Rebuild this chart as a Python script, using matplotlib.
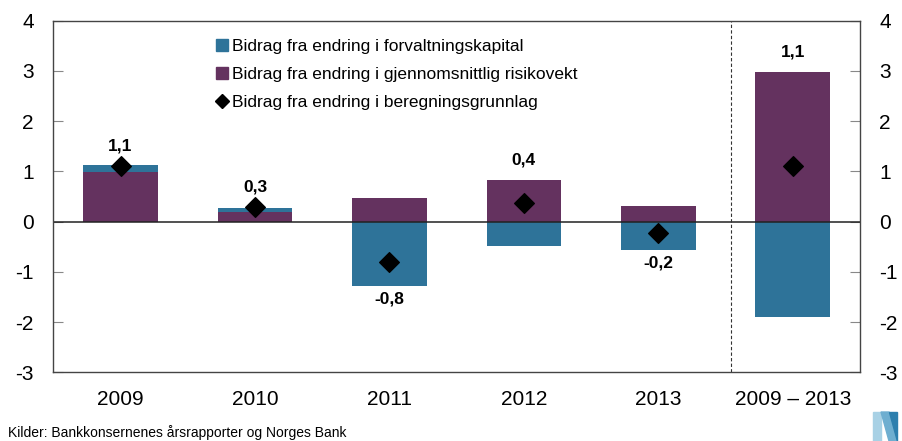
# Bidrag til endring i risikovektet eiendeler - stablet søylediagram

import matplotlib.pyplot as plt
from matplotlib.patches import Polygon
from matplotlib.lines import Line2D

plt.rcParams['font.family'] = ['Liberation Sans', 'DejaVu Sans']

# data lest av figuren
kategorier = ['2009', '2010', '2011', '2012', '2013', '2009 – 2013']
forvaltningskapital = [0.13, 0.07, -1.28, -0.48, -0.56, -1.89]
risikovekt = [0.99, 0.20, 0.47, 0.83, 0.31, 2.98]
beregningsgrunnlag = [1.1, 0.29, -0.8, 0.37, -0.23, 1.1]
etiketter = ['1,1', '0,3', '-0,8', '0,4', '-0,2', '1,1']

blaa = '#2e7399'
lilla = '#64325f'

W, H = 903, 441
fig = plt.figure(figsize=(W / 100, H / 100), dpi=100)
ax = fig.add_axes([53.3 / W, 1 - 372.3 / H, 806.7 / W, 351.6 / H])

x = range(len(kategorier))
bredde = 0.555

# positive deler stables oppover fra 0, negative nedover
for i in x:
    f = forvaltningskapital[i]
    r = risikovekt[i]
    ax.bar(i, r, bredde, color=lilla, linewidth=0)
    if f >= 0 and r >= 0:
        ax.bar(i, f, bredde, bottom=r, color=blaa, linewidth=0)
    else:
        ax.bar(i, f, bredde, color=blaa, linewidth=0)

ax.scatter(list(x), beregningsgrunnlag, marker='D', s=100, color='black', zorder=5)

# verdietiketter
for i in x:
    topp = max(risikovekt[i] + max(forvaltningskapital[i], 0), 0)
    bunn = min(forvaltningskapital[i], 0)
    if beregningsgrunnlag[i] >= 0:
        ax.text(i, max(topp, beregningsgrunnlag[i]) + 0.24, etiketter[i],
                ha='center', va='bottom', fontsize=12.5, fontweight='bold')
    else:
        ax.text(i, bunn - 0.12, etiketter[i], ha='center', va='top',
                fontsize=12.5, fontweight='bold')

ax.axhline(0, color='#222222', linewidth=1.1)
ax.axvline(4.54, color='#333333', linewidth=0.8, linestyle=(0, (3, 2)))

ax.set_xlim(-0.5, 5.5)
ax.set_ylim(-3, 4)
ax.set_xticks(list(x))
ax.set_xticklabels(kategorier, fontsize=15)
ax.tick_params(axis='x', length=0, pad=13)
ax.set_yticks(range(-3, 5))
ax.set_yticklabels([str(v) for v in range(-3, 5)], fontsize=15)
ax.tick_params(axis='y', direction='in', length=7, color='#888888',
               left=True, right=True, labelleft=True, labelright=True, pad=14)
for s in ax.spines.values():
    s.set_color('#444444')
    s.set_linewidth(1.0)

# legende
handles = [
    Line2D([], [], marker='s', linestyle='none', color=blaa, markersize=9),
    Line2D([], [], marker='s', linestyle='none', color=lilla, markersize=9),
    Line2D([], [], marker='D', linestyle='none', color='black', markersize=7),
]
ax.legend(handles, ['Bidrag fra endring i forvaltningskapital',
                    'Bidrag fra endring i gjennomsnittlig risikovekt',
                    'Bidrag fra endring i beregningsgrunnlag'],
          loc='upper left', bbox_to_anchor=(0.184, 0.99), frameon=False,
          fontsize=12.5, handlelength=0.6, handletextpad=0.3,
          labelspacing=0.75, borderaxespad=0.45)

# kilde
fig.text(8 / W, 1 / H, 'Kilder: Bankkonsernenes årsrapporter og Norges Bank',
         fontsize=10, ha='left', va='bottom')

# enkel logo nede til høyre (pikselkoordinater fra toppen)
def px(pts):
    return [[a, H - b] for a, b in pts]

fig.patches.append(Polygon(px([[873, 441], [873, 412], [881, 412], [881, 441]]),
                           closed=True, transform=None, color='#a8d1e5'))
fig.patches.append(Polygon(px([[881, 412], [889, 412], [897, 441], [889, 441]]),
                           closed=True, transform=None, color='#6eaed0'))
fig.patches.append(Polygon(px([[889, 412], [897, 412], [897, 441]]),
                           closed=True, transform=None, color='#2d7fae'))

plt.savefig('out.png', dpi=100)
